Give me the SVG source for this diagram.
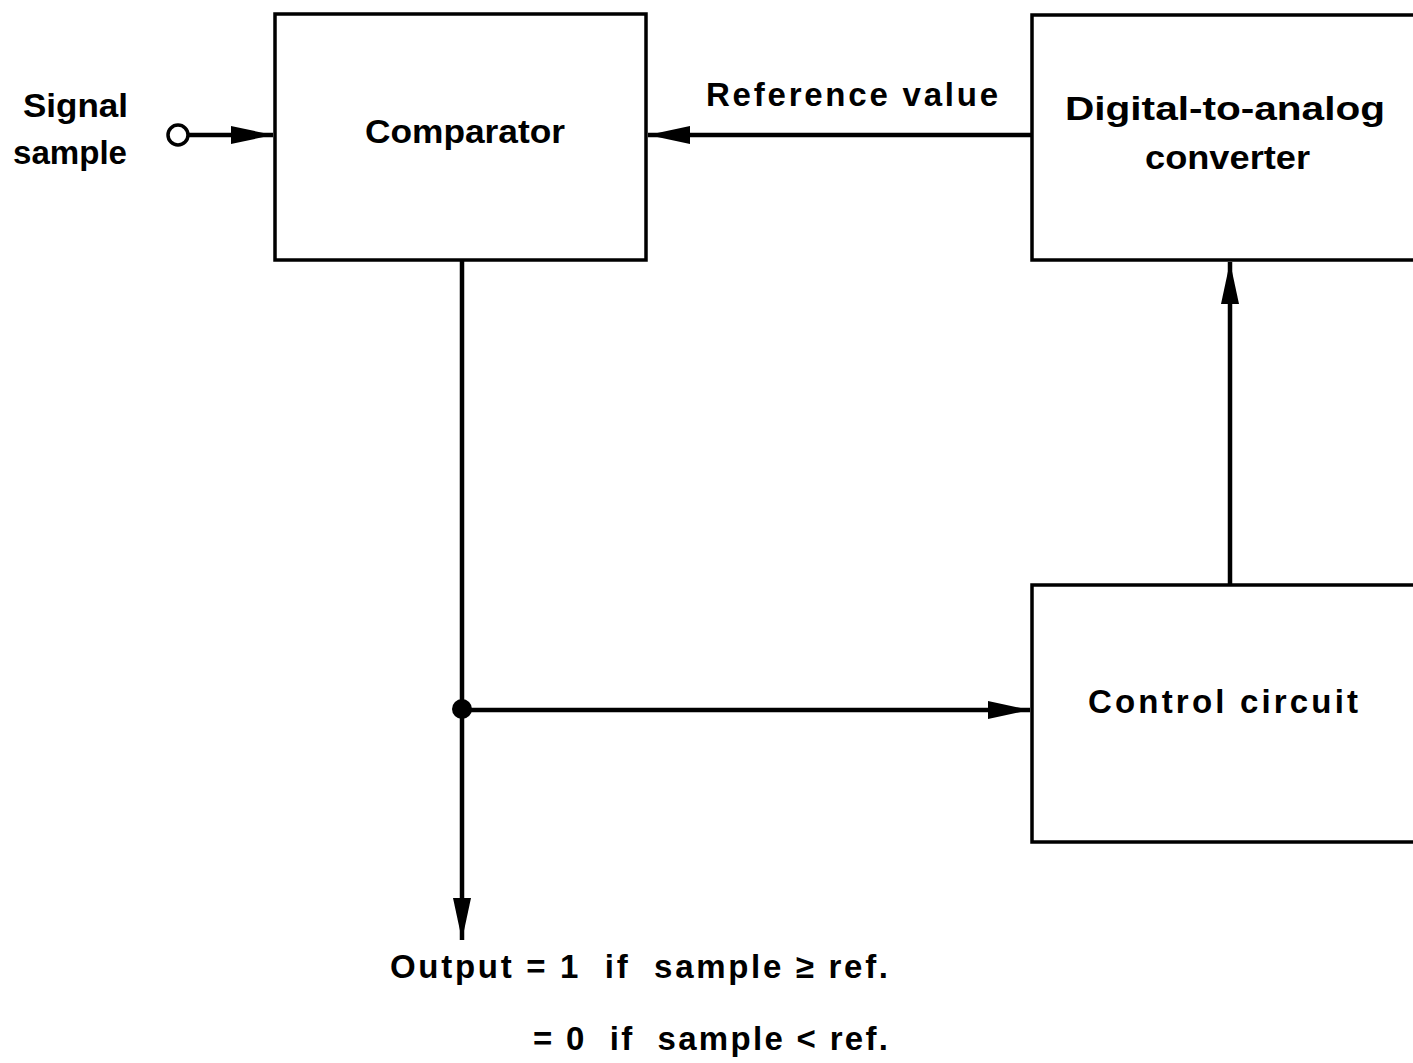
<svg xmlns="http://www.w3.org/2000/svg" width="1413" height="1063" viewBox="0 0 1413 1063">
<style>
.box{fill:#fff;stroke:#000;stroke-width:3.5}
.ln{fill:none;stroke:#000;stroke-width:4.5}
text{font-family:"Liberation Sans",Arial,sans-serif;font-size:33px;fill:#000;font-weight:bold}
</style>
<defs>
<marker id="ah" viewBox="0 0 42 18" refX="42" refY="9" markerWidth="42" markerHeight="18" markerUnits="userSpaceOnUse" orient="auto">
<path d="M0,0 L42,9 L0,18 Z" fill="#000"/>
</marker>
</defs>
<rect width="1413" height="1063" fill="#fff"/>
<g id="comparator">
<rect class="box" x="275" y="14" width="371" height="246"/>
<text x="365" y="143" textLength="200" lengthAdjust="spacingAndGlyphs">Comparator</text>
</g>
<g id="dac">
<rect class="box" x="1032" y="15" width="400" height="245"/>
<text x="1065" y="120" textLength="320" lengthAdjust="spacingAndGlyphs">Digital-to-analog</text>
<text x="1145" y="169" textLength="165" lengthAdjust="spacingAndGlyphs">converter</text>
</g>
<g id="control">
<rect class="box" x="1032" y="585" width="400" height="257"/>
<text x="1088" y="713" textLength="270" lengthAdjust="spacing">Control  circuit</text>
</g>
<g id="labels">
<text x="23" y="117" textLength="105" lengthAdjust="spacingAndGlyphs">Signal</text>
<text x="13" y="164" textLength="114" lengthAdjust="spacingAndGlyphs">sample</text>
<text x="706" y="106" textLength="292" lengthAdjust="spacing">Reference  value</text>
<text x="390" y="978" textLength="498" lengthAdjust="spacing" xml:space="preserve">Output = 1  if  sample ≥ ref.</text>
<text x="533" y="1050" textLength="355" lengthAdjust="spacing" xml:space="preserve">= 0  if  sample &lt; ref.</text>
</g>
<g id="connectors">
<circle cx="178" cy="135" r="10" fill="#fff" stroke="#000" stroke-width="3.5"/>
<line class="ln" x1="188" y1="135" x2="273" y2="135" marker-end="url(#ah)"/>
<line class="ln" x1="1032" y1="135" x2="648" y2="135" marker-end="url(#ah)"/>
<line class="ln" x1="462" y1="260" x2="462" y2="940" marker-end="url(#ah)"/>
<circle cx="462" cy="709" r="10" fill="#000"/>
<line class="ln" x1="462" y1="710" x2="1030" y2="710" marker-end="url(#ah)"/>
<line class="ln" x1="1230" y1="585" x2="1230" y2="262" marker-end="url(#ah)"/>
</g>
</svg>
